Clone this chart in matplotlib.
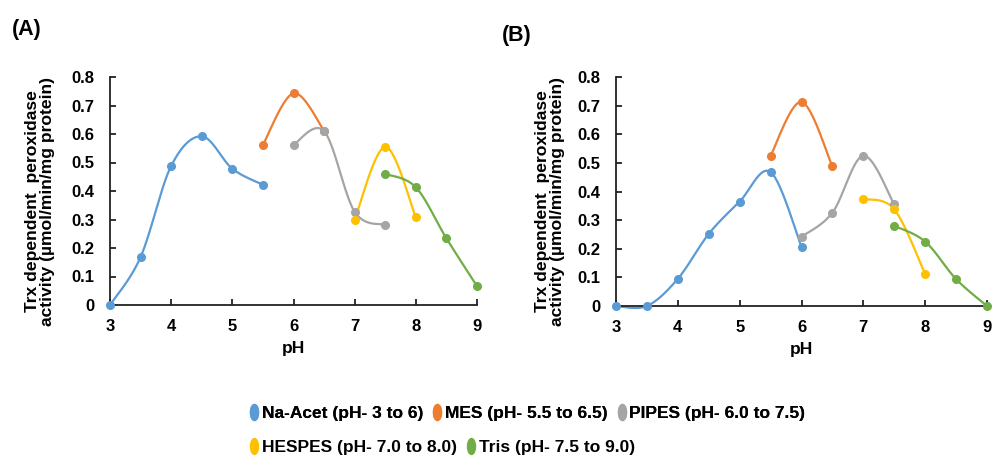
import numpy as np
import matplotlib
matplotlib.use("Agg")
import matplotlib.pyplot as plt
from matplotlib.path import Path
from matplotlib.transforms import Affine2D
from matplotlib.lines import Line2D

plt.rcParams['font.family'] = ['Liberation Sans', 'DejaVu Sans']
plt.rcParams['font.weight'] = 'bold'

buffers = ['Na-Acet (pH- 3 to 6)', 'MES (pH- 5.5 to 6.5)', 'PIPES (pH- 6.0 to 7.5)',
           'HESPES (pH- 7.0 to 8.0)', 'Tris (pH- 7.5 to 9.0)']
colors = ['#5B9BD5', '#ED7D31', '#A5A5A5', '#FFC000', '#70AD47']

# panel A
ph_a = [
    [3, 3.5, 4, 4.5, 5, 5.5],
    [5.5, 6, 6.5],
    [6, 6.5, 7, 7.5],
    [7, 7.5, 8],
    [7.5, 8, 8.5, 9],
]
act_a = [
    [0.0, 0.168, 0.488, 0.592, 0.478, 0.422],
    [0.562, 0.743, 0.612],
    [0.562, 0.610, 0.327, 0.281],
    [0.300, 0.555, 0.308],
    [0.460, 0.413, 0.234, 0.066],
]

# panel B
ph_b = [
    [3, 3.5, 4, 4.5, 5, 5.5, 6],
    [5.5, 6, 6.5],
    [6, 6.5, 7, 7.5],
    [7, 7.5, 8],
    [7.5, 8, 8.5, 9],
]
act_b = [
    [0.0, 0.0, 0.095, 0.252, 0.365, 0.468, 0.207],
    [0.525, 0.713, 0.488],
    [0.242, 0.326, 0.525, 0.355],
    [0.374, 0.338, 0.112],
    [0.280, 0.225, 0.094, 0.0],
]

yticks = [0, 0.1, 0.2, 0.3, 0.4, 0.5, 0.6, 0.7, 0.8]
ytick_labels = ['0', '0.1', '0.2', '0.3', '0.4', '0.5', '0.6', '0.7', '0.8']
xticks = [3, 4, 5, 6, 7, 8, 9]

W, H = 993, 457


def smooth(x, y, n=30):
    # spreadsheet-style smoothed line: cubic bezier, control points from neighbours
    x = np.asarray(x, float)
    y = np.asarray(y, float)
    if len(x) < 3:
        return x, y
    px = np.concatenate([[x[0]], x, [x[-1]]])
    py = np.concatenate([[y[0]], y, [y[-1]]])
    t = np.linspace(0, 1, n)
    xs, ys = [], []
    for i in range(1, len(px) - 2):
        p0 = np.array([px[i], py[i]])
        p3 = np.array([px[i + 1], py[i + 1]])
        c1 = p0 + (np.array([px[i + 1], py[i + 1]]) - np.array([px[i - 1], py[i - 1]])) / 6
        c2 = p3 - (np.array([px[i + 2], py[i + 2]]) - np.array([px[i], py[i]])) / 6
        b = ((1 - t) ** 3)[:, None] * p0 + (3 * (1 - t) ** 2 * t)[:, None] * c1 \
            + (3 * (1 - t) * t ** 2)[:, None] * c2 + (t ** 3)[:, None] * p3
        xs.append(b[:, 0])
        ys.append(b[:, 1])
    return np.concatenate(xs), np.concatenate(ys)


def draw_panel(ax, phs, acts, label_gap):
    for ph, act, c in zip(phs, acts, colors):
        sx, sy = smooth(ph, act)
        ax.plot(sx, sy, color=c, lw=1.6, solid_capstyle='round', clip_on=False, zorder=2)
        ax.plot(ph, act, 'o', color=c, ms=5.5, clip_on=False, zorder=3)
    ax.set_xlim(3, 9)
    ax.set_ylim(0, 0.8)
    ax.set_xticks(xticks)
    ax.set_yticks(yticks)
    ax.set_yticklabels(ytick_labels)
    for s in ['top', 'right']:
        ax.spines[s].set_visible(False)
    for s in ['left', 'bottom']:
        ax.spines[s].set_linewidth(1.3)
        ax.spines[s].set_color('#222222')
    ax.tick_params(direction='in', length=4, width=1.3, color='#222222', labelsize=12)
    ax.tick_params(axis='x', pad=10)
    ax.tick_params(axis='y', pad=11)
    for lab in ax.get_xticklabels() + ax.get_yticklabels():
        lab.set_fontweight('bold')
    ax.set_xlabel('pH', fontsize=12.5, fontweight='bold', labelpad=5)
    ax.set_ylabel('Trx dependent  peroxidase\nactivity (µmol/min/mg protein)',
                  fontsize=12.6, fontweight='bold', linespacing=0.98)
    bw = ax.get_position().width * W
    bh = ax.get_position().height * H
    ax.yaxis.set_label_coords(-label_gap / bw, 0.5 - 10 / bh)


fig = plt.figure(figsize=(9.93, 4.57), dpi=100)
ax_a = fig.add_axes([110 / W, 1 - 305 / H, 367 / W, 228 / H])
ax_b = fig.add_axes([616 / W, 1 - 306 / H, 371 / W, 229 / H])
draw_panel(ax_a, ph_a, act_a, 55)
draw_panel(ax_b, ph_b, act_b, 51)

fig.text(12 / W, 1 - 30 / H, '(A)', fontsize=15.5, fontweight='bold', va='center')
fig.text(502 / W, 1 - 36 / H, '(B)', fontsize=15.5, fontweight='bold', va='center')

# oval legend markers
oval = Path.unit_circle().transformed(Affine2D().scale(0.5, 1.0))
handles = [Line2D([], [], ls='none', marker=oval, ms=11.5, color=c) for c in colors]

leg_kw = dict(frameon=False, handlelength=0.6, handletextpad=0.15, columnspacing=0.5,
              borderaxespad=0, borderpad=0, prop={'size': 12.5, 'weight': 'bold'})
leg1 = fig.legend(handles[:3], buffers[:3], ncol=3, loc='center left',
                  bbox_to_anchor=(249 / W, 1 - 413 / H), **leg_kw)
fig.add_artist(leg1)
fig.legend(handles[3:], buffers[3:], ncol=2, loc='center left',
           bbox_to_anchor=(249 / W, 1 - 447 / H), **leg_kw)

fig.savefig('out.png', dpi=100)
